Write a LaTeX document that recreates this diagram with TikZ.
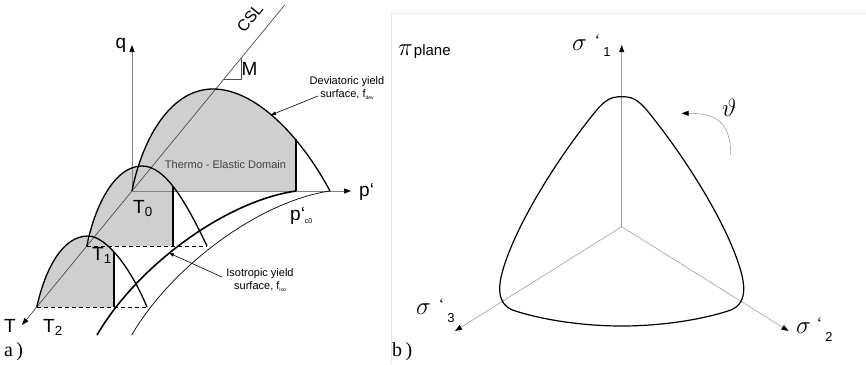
\documentclass[tikz,border=0pt]{standalone}
\usepackage{fontspec}
\setmainfont{Liberation Sans}
\newfontfamily\serifface{Liberation Serif}
\usetikzlibrary{arrows.meta}
\definecolor{fillg}{gray}{0.81}
\definecolor{axg}{gray}{0.5}
\definecolor{cslg}{gray}{0.3}
\definecolor{pig}{gray}{0.62}
\definecolor{frameg}{gray}{0.91}
\begin{document}
\begin{tikzpicture}[x=1pt,y=-1pt,line join=round,
 lbl/.style={inner sep=0pt,font=\fontsize{19}{21}\selectfont},
 note/.style={inner sep=0pt,font=\fontsize{11}{13}\selectfont,align=center},
 tri/.style={-{Triangle[length=7pt,width=5pt,color=black]}},
 smalltri/.style={-{Triangle[length=5pt,width=3.5pt,color=black]}},
 axisline/.style={draw=axg,line width=0.7pt},
 cslline/.style={draw=cslg,line width=0.7pt},
 piaxis/.style={draw=pig,line width=0.6pt},
 dev/.style={line width=1.3pt},
 bar/.style={line width=2.6pt},
 isothick/.style={line width=1.6pt},
 isothin/.style={line width=0.7pt},
 dashline/.style={line width=0.6pt,dash pattern=on 4pt off 3pt},
]
\useasboundingbox (0,0) rectangle (866,364);

% ---------- key points (left panel)
\coordinate (T0) at (132,191);
\coordinate (T1) at (86.8,246);
\coordinate (T2) at (36.8,307);
\coordinate (qtip) at (132,45);
\coordinate (ptip) at (351,191);
\coordinate (csltop) at (284.7,5);
\coordinate (Ttip) at (22,325);
\coordinate (E0) at (330,191);
\coordinate (E1) at (207,246);
\coordinate (E2) at (147,307);
\coordinate (B0t) at (296,139);
\coordinate (B0b) at (296,191);
\coordinate (B1t) at (173,187);
\coordinate (B1b) at (173,246);
\coordinate (B2t) at (114,252);
\coordinate (B2b) at (114,307);

% ---------- fills
\begin{scope}
\clip (0,0) rectangle (296,364);
\fill[fillg] (T0) .. controls (142,140) and (170,89) .. (213,89)
  .. controls (255,89) and (300,135) .. (E0) -- cycle;
\end{scope}
\begin{scope}
\clip (0,0) rectangle (173,364);
\fill[fillg] (T1) .. controls (95,205) and (115,166) .. (142,166)
  .. controls (165,166) and (185,200) .. (E1) -- cycle;
\end{scope}
\begin{scope}
\clip (0,0) rectangle (114,364);
\fill[fillg] (T2) .. controls (45,270) and (62,236) .. (88,236)
  .. controls (104,236) and (128,262) .. (E2) -- cycle;
\end{scope}

% ---------- axes
\draw[axisline,tri] (T0) -- (qtip);
\draw[axisline,tri] (T0) -- (ptip);
\draw[cslline,tri] (csltop) -- (Ttip);

% M triangle
\coordinate (m1) at (224,79);
\coordinate (m2) at (241,79);
\coordinate (m3) at (241,58.2);
\draw[cslline,line width=0.6pt] (m1) -- (m2) -- (m3);

% ---------- yield curves
\draw[dev] (T0) .. controls (142,140) and (170,89) .. (213,89)
  .. controls (255,89) and (300,135) .. (E0);
\draw[dev] (T1) .. controls (95,205) and (115,166) .. (142,166)
  .. controls (165,166) and (185,200) .. (E1);
\draw[dev] (T2) .. controls (45,270) and (62,236) .. (88,236)
  .. controls (104,236) and (128,262) .. (E2);

\draw[bar] (B0t) -- (B0b);
\draw[bar] (B1t) -- (B1b);
\draw[bar] (B2t) -- (B2b);

\draw[dashline] (T1) -- (E1);
\draw[dashline] (T2) -- (E2);

\coordinate (i1s) at (97,335);
\coordinate (i2s) at (131.7,335);
\draw[isothick] (i1s) .. controls (138,265) and (226,201) .. (B0b);
\draw[isothin] (i2s) .. controls (172.7,265) and (260.7,201) .. (E0);

% ---------- labels left
\node[lbl,anchor=base] (q) at (121,48) {q};
\node[lbl,anchor=base west] (Tl) at (4,332) {T};
\node[lbl,anchor=base west] (T2l) at (43,332) {T\textsubscript{2}};
\node[lbl,anchor=base west] (T1l) at (92,260) {T\textsubscript{1}};
\node[lbl,anchor=base west] (T0l) at (133,213) {T\textsubscript{0}};
\node[lbl,anchor=base west] (Ml) at (241.5,75) {M};
\node[lbl,anchor=base west] (pl) at (359,196) {p{\char"60}};
\node[lbl,anchor=base west] (pc) at (290,220) {p{\char"60}\raisebox{-3pt}{\fontsize{7}{7}\selectfont c0}};
\node[inner sep=0pt,font=\fontsize{16}{18}\selectfont,rotate=50.6] (csl) at (250,18) {CSL};
\node[note,text=black!75] (ted) at (225.5,165) {Thermo - Elastic Domain};
\node[note] (devt) at (347,88) {Deviatoric yield\\surface, f\raisebox{-1.5pt}{\fontsize{5}{5}\selectfont dev}};
\node[note] (isot) at (260,280) {Isotropic yield\\surface, f\raisebox{-1.5pt}{\fontsize{5}{5}\selectfont iso}};
\coordinate (devs) at (318,96);
\coordinate (deve) at (271,115);
\draw[line width=0.6pt,smalltri] (devs) -- (deve);
\coordinate (isos) at (222,277);
\coordinate (isoe) at (169,253);
\draw[line width=0.6pt,smalltri] (isos) -- (isoe);
\node[inner sep=0pt,anchor=base west,font=\serifface\fontsize{20}{22}\selectfont] (a) at (4,356) {a\,)};

% ---------- right panel
\coordinate (f1) at (391,364);
\coordinate (f2) at (391,13);
\coordinate (f3) at (866,13);
\draw[frameg,line width=0.8pt] (f1) -- (f2) -- (f3);

\coordinate (C) at (621.7,226.7);
\coordinate (s1tip) at (621.7,45);
\coordinate (s2tip) at (788.5,331);
\coordinate (s3tip) at (455,331);
\draw[piaxis,tri] (C) -- (s1tip);
\draw[piaxis,tri] (C) -- (s2tip);
\draw[piaxis,tri] (C) -- (s3tip);

\draw[line width=1.2pt] (621.7,96.7)
  .. controls (632,96.7) and (637,99.5) .. (645,108)
  .. controls (680,150) and (722,215) .. (738,262)
  .. controls (746,285) and (748,305) .. (728,311)
  .. controls (700,320) and (660,326) .. (621.7,326)
  .. controls (583.4,326) and (543.4,320) .. (515.4,311)
  .. controls (495.4,305) and (497.4,285) .. (505.4,262)
  .. controls (521.4,215) and (563.4,150) .. (598.4,108)
  .. controls (606.4,99.5) and (611.4,96.7) .. cycle;

\coordinate (th1) at (730.7,155);
\coordinate (th2) at (681.7,113.3);
\draw[piaxis,line width=0.6pt,tri] (th1) .. controls (730.7,122) and (716,113.3) .. (th2);
\node[inner sep=0pt,anchor=base west,font=\fontsize{24}{24}\selectfont] (th) at (722,116) {$\vartheta$};

\node[inner sep=0pt,anchor=base west] (s1) at (572,50) {\fontsize{27}{27}\selectfont$\sigma$\hspace{8pt}\raisebox{5pt}{\fontsize{16}{16}\serifface ‘}\hspace{3pt}\raisebox{-6pt}{\fontsize{13}{13}\selectfont 1}};
\node[inner sep=0pt,anchor=base west] (s2) at (796,333) {\fontsize{27}{27}\selectfont$\sigma$\hspace{6pt}\raisebox{5pt}{\fontsize{16}{16}\serifface ‘}\hspace{3pt}\raisebox{-8pt}{\fontsize{13}{13}\selectfont 2}};
\node[inner sep=0pt,anchor=base west] (s3) at (416,314) {\fontsize{27}{27}\selectfont$\sigma$\hspace{8pt}\raisebox{5pt}{\fontsize{16}{16}\serifface ‘}\hspace{3pt}\raisebox{-8pt}{\fontsize{13}{13}\selectfont 3}};
\node[inner sep=0pt,anchor=base west] (pi) at (398,55) {\fontsize{30}{30}\selectfont$\pi$\hspace{1pt}{\fontsize{15}{15}\selectfont plane}};
\node[inner sep=0pt,anchor=base west,font=\serifface\fontsize{20}{22}\selectfont] (b) at (392,356) {b\,)};
\end{tikzpicture}
\end{document}
